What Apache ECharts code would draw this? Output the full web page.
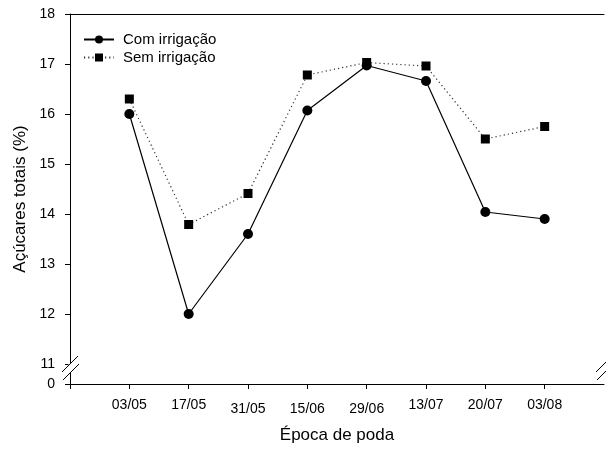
<!DOCTYPE html>
<html>
<head>
<meta charset="utf-8">
<script src="https://cdn.jsdelivr.net/npm/echarts@6/dist/echarts.min.js"></script>
<style>
html,body{margin:0;padding:0;background:#fff;}
#chart{width:606px;height:449px;}
</style>
</head>
<body>
<div id="chart"></div>
<script>
var categories = ['03/05','17/05','31/05','15/06','29/06','13/07','20/07','03/08'];
var comIrrigacao = [16.0, 12.0, 13.6, 16.07, 16.97, 16.66, 14.04, 13.90];
var semIrrigacao = [16.30, 13.79, 14.41, 16.78, 17.03, 16.96, 15.50, 15.75];
var yTicks = [11, 12, 13, 14, 15, 16, 17, 18];
var yBreakMin = 10.6;

var FONT = 'Liberation Sans';
function toPairs(arr){ return arr.map(function(v,i){ return [i+1, v]; }); }
var xTickVals = [0].concat(categories.map(function(c,i){return i+1;}));
var xLabelVals = categories.map(function(c,i){return i+1;});
var yTickVals = [yBreakMin].concat(yTicks);
var lowLabels = {3:1, 4:1, 5:1};

var chart = echarts.init(document.getElementById('chart'), null, {renderer:'canvas'});
var option = {
  animation: false,
  backgroundColor: '#fff',
  grid: {left: 70, right: 2, top: 14, bottom: 60, containLabel: false},
  legend: {
    orient: 'vertical', left: 83, top: 32, padding: 0, itemGap: 3,
    itemWidth: 30, itemHeight: 10,
    textStyle: {fontFamily: FONT, fontSize: 15, color: '#000', padding:[0,0,0,4]},
    data: ['Com irrigação', 'Sem irrigação']
  },
  xAxis: [{
    type: 'value', min: 0, max: 9, interval: 1,
    axisLine: {lineStyle: {color: '#000', width: 1}},
    axisTick: {show: true, inside: false, length: 5, customValues: xTickVals, lineStyle:{color:'#000'}},
    axisLabel: {customValues: xLabelVals, fontFamily: FONT, fontSize: 14, color: '#000', margin: 14,
      formatter: function(v){
        var i = Math.round(v);
        var t = categories[i-1] || '';
        return lowLabels[i] ? '{lo|' + t + '}' : t;
      },
      rich: {lo: {fontFamily: FONT, fontSize: 14, color: '#000', padding: [4,0,0,0]}}
    },
    splitLine: {show: false},
    name: 'Época de poda', nameLocation: 'middle', nameGap: 43,
    nameTextStyle: {fontFamily: FONT, fontSize: 17, color: '#000'}
  }, {
    type: 'value', min: 0, max: 9, position: 'top',
    axisLine: {show: true, lineStyle: {color: '#000', width: 1}},
    axisTick: {show: false}, axisLabel: {show: false}, splitLine: {show: false}
  }],
  yAxis: {
    type: 'value', min: yBreakMin, max: 18,
    axisLine: {show: true, lineStyle: {color: '#000', width: 1}},
    axisTick: {show: true, length: 5, customValues: yTickVals, lineStyle:{color:'#000'}},
    axisLabel: {customValues: yTickVals, fontFamily: FONT, fontSize: 14, color: '#000', margin: 15,
      formatter: function(v){ return v < 10.9 ? '0' : String(Math.round(v)); }},
    splitLine: {show: false},
    name: 'Açúcares totais (%)', nameLocation: 'middle', nameGap: 41,
    nameTextStyle: {fontFamily: FONT, fontSize: 17, color: '#000'}
  },
  series: [{
    name: 'Com irrigação', type: 'line', data: toPairs(comIrrigacao),
    symbol: 'circle', symbolSize: 10,
    lineStyle: {color: '#000', width: 1.2, type: 'solid'},
    itemStyle: {color: '#000'}
  }, {
    name: 'Sem irrigação', type: 'line', data: toPairs(semIrrigacao),
    symbol: 'rect', symbolSize: 9,
    lineStyle: {color: '#333', width: 1.2, type: [1.2, 3]},
    itemStyle: {color: '#000'}
  }]
};
chart.setOption(option);

// axis-break decorations
var pL = chart.convertToPixel({xAxisIndex:0, yAxisIndex:0}, [0, 10.92]);
var pR = chart.convertToPixel({xAxisIndex:0, yAxisIndex:0}, [9, 10.92]);
function breakMarks(cx, cy, withGap){
  var els = [];
  if (withGap) {
    els.push({type:'rect', shape:{x:cx-1.5, y:cy-4, width:3, height:8}, style:{fill:'#fff'}, z:100});
  }
  els.push({type:'line', shape:{x1:cx-8, y1:cy+4, x2:cx+8, y2:cy-12}, style:{stroke:'#000', lineWidth:1}, z:101});
  els.push({type:'line', shape:{x1:cx-7, y1:cy+12, x2:cx+9, y2:cy-4}, style:{stroke:'#000', lineWidth:1}, z:101});
  return els;
}
chart.setOption({graphic: breakMarks(pL[0], pL[1], true).concat(breakMarks(pR[0], pR[1], false))});
</script>
</body>
</html>
